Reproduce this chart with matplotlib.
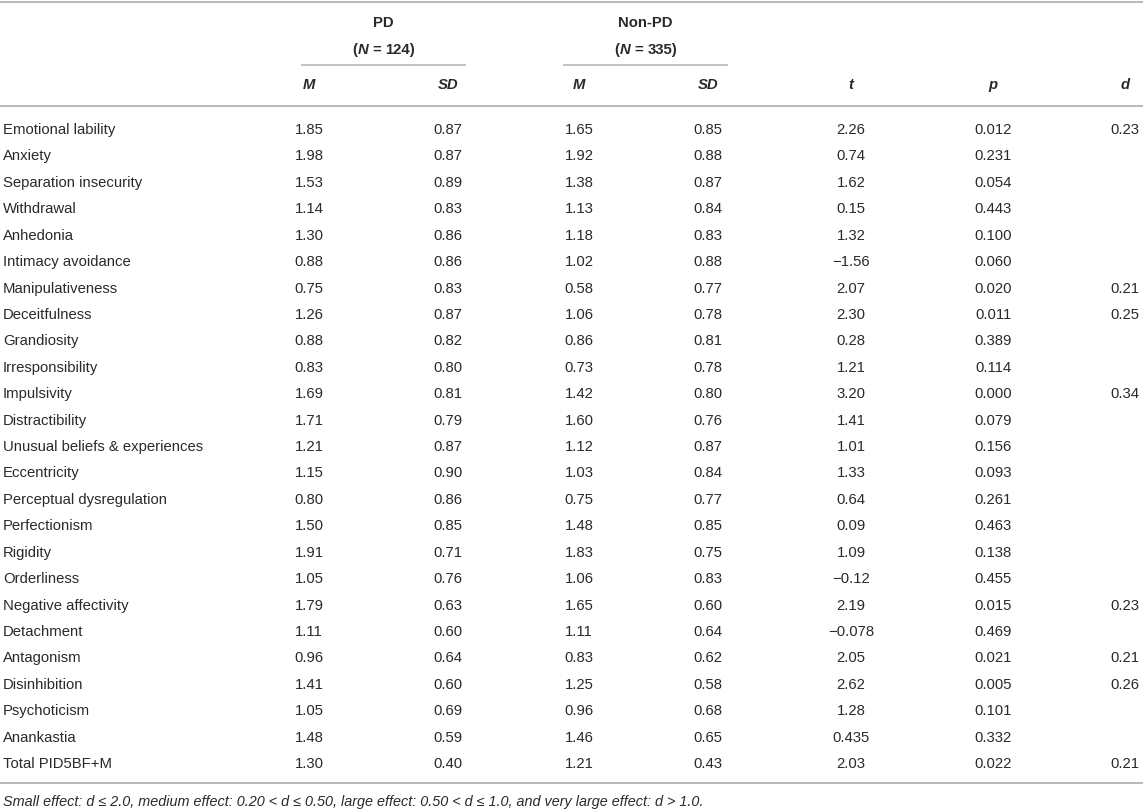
import matplotlib
matplotlib.use("Agg")
import matplotlib.pyplot as plt
from matplotlib.lines import Line2D

# ---------------- data ----------------
traits = [
    "Emotional lability", "Anxiety", "Separation insecurity", "Withdrawal",
    "Anhedonia", "Intimacy avoidance", "Manipulativeness", "Deceitfulness",
    "Grandiosity", "Irresponsibility", "Impulsivity", "Distractibility",
    "Unusual beliefs & experiences", "Eccentricity", "Perceptual dysregulation",
    "Perfectionism", "Rigidity", "Orderliness", "Negative affectivity",
    "Detachment", "Antagonism", "Disinhibition", "Psychoticism", "Anankastia",
    "Total PID5BF+M",
]
pd_m = ["1.85", "1.98", "1.53", "1.14", "1.30", "0.88", "0.75", "1.26", "0.88",
        "0.83", "1.69", "1.71", "1.21", "1.15", "0.80", "1.50", "1.91", "1.05",
        "1.79", "1.11", "0.96", "1.41", "1.05", "1.48", "1.30"]
pd_sd = ["0.87", "0.87", "0.89", "0.83", "0.86", "0.86", "0.83", "0.87", "0.82",
         "0.80", "0.81", "0.79", "0.87", "0.90", "0.86", "0.85", "0.71", "0.76",
         "0.63", "0.60", "0.64", "0.60", "0.69", "0.59", "0.40"]
npd_m = ["1.65", "1.92", "1.38", "1.13", "1.18", "1.02", "0.58", "1.06", "0.86",
         "0.73", "1.42", "1.60", "1.12", "1.03", "0.75", "1.48", "1.83", "1.06",
         "1.65", "1.11", "0.83", "1.25", "0.96", "1.46", "1.21"]
npd_sd = ["0.85", "0.88", "0.87", "0.84", "0.83", "0.88", "0.77", "0.78", "0.81",
          "0.78", "0.80", "0.76", "0.87", "0.84", "0.77", "0.85", "0.75", "0.83",
          "0.60", "0.64", "0.62", "0.58", "0.68", "0.65", "0.43"]
t_vals = ["2.26", "0.74", "1.62", "0.15", "1.32", "\u22121.56", "2.07", "2.30",
          "0.28", "1.21", "3.20", "1.41", "1.01", "1.33", "0.64", "0.09", "1.09",
          "\u22120.12", "2.19", "\u22120.078", "2.05", "2.62", "1.28", "0.435", "2.03"]
p_vals = ["0.012", "0.231", "0.054", "0.443", "0.100", "0.060", "0.020", "0.011",
          "0.389", "0.114", "0.000", "0.079", "0.156", "0.093", "0.261", "0.463",
          "0.138", "0.455", "0.015", "0.469", "0.021", "0.005", "0.101", "0.332",
          "0.022"]
d_vals = ["0.23", "", "", "", "", "", "0.21", "0.25", "", "", "0.34", "", "", "",
          "", "", "", "", "0.23", "", "0.21", "0.26", "", "", "0.21"]

group_labels = ["PD", "Non-PD"]
group_n = ["124", "335"]
col_heads = ["M", "SD", "M", "SD", "t", "p", "d"]
footnote = ("Small effect: d \u2264 2.0, medium effect: 0.20 < d \u2264 0.50, "
            "large effect: 0.50 < d \u2264 1.0, and very large effect: d > 1.0.")

# ---------------- layout ----------------
W, H = 1143, 812
FONT = "Liberation Sans"
TXT = "#2a2a2a"
RULE = "#b8b8b8"
FS = 10.7
col_x = [309, 448, 579, 708, 851, 993, 1125]
group_x = [(301, 466), (563, 728)]
label_x = 3
row_y0, row_dy = 130, 26.42

fig = plt.figure(figsize=(W / 100, H / 100), dpi=100)
ax = fig.add_axes([0, 0, 1, 1])
ax.set_xlim(0, W)
ax.set_ylim(H, 0)
ax.axis("off")


def hline(y, x0=0, x1=W, lw=1.4):
    ax.add_line(Line2D([x0, x1], [y, y], color=RULE, lw=lw, solid_capstyle="butt"))


def segtext(x, y, segs, size=FS):
    """Draw segments [(str, style, weight, gap_after_px)] centered at x."""
    renderer = fig.canvas.get_renderer()
    arts = []
    widths = []
    for s, st, wt, gap in segs:
        t = ax.text(0, y, s, fontfamily=FONT, fontstyle=st, fontweight=wt,
                    fontsize=size, color=TXT, ha="left", va="center")
        bb = t.get_window_extent(renderer)
        arts.append(t)
        widths.append(bb.width + gap)
    total = sum(widths)
    cur = x - total / 2
    for t, w in zip(arts, widths):
        t.set_x(cur)
        cur += w


# rules
hline(3)
hline(107)
hline(784)
for x0, x1 in group_x:
    hline(66, x0, x1, lw=1.2)

# group headers
for (x0, x1), g, n in zip(group_x, group_labels, group_n):
    cx = (x0 + x1) / 2
    ax.text(cx, 23, g, fontfamily=FONT, fontweight="bold", fontsize=FS,
            color=TXT, ha="center", va="center")
    segtext(cx, 50, [("(", "normal", "bold", 1.0), ("N", "italic", "bold", 4.0),
                     ("= ", "normal", "bold", 0.0), (n + ")", "normal", "bold", 0.0)])

# column headers
for x, h in zip(col_x, col_heads):
    ax.text(x, 85, h, fontfamily=FONT, fontweight="bold", fontstyle="italic",
            fontsize=FS, color=TXT, ha="center", va="center")

# body
cols = [pd_m, pd_sd, npd_m, npd_sd, t_vals, p_vals, d_vals]
for i, name in enumerate(traits):
    y = row_y0 + i * row_dy
    ax.text(label_x, y, name, fontfamily=FONT, fontsize=FS, color=TXT,
            ha="left", va="center")
    for x, col in zip(col_x, cols):
        if col[i]:
            ax.text(x, y, col[i], fontfamily=FONT, fontsize=FS, color=TXT,
                    ha="center", va="center")

# footnote
ax.text(label_x, 802, footnote, fontfamily=FONT, fontstyle="italic",
        fontsize=10.4, color=TXT, ha="left", va="center")

fig.savefig("out.png", dpi=100)
